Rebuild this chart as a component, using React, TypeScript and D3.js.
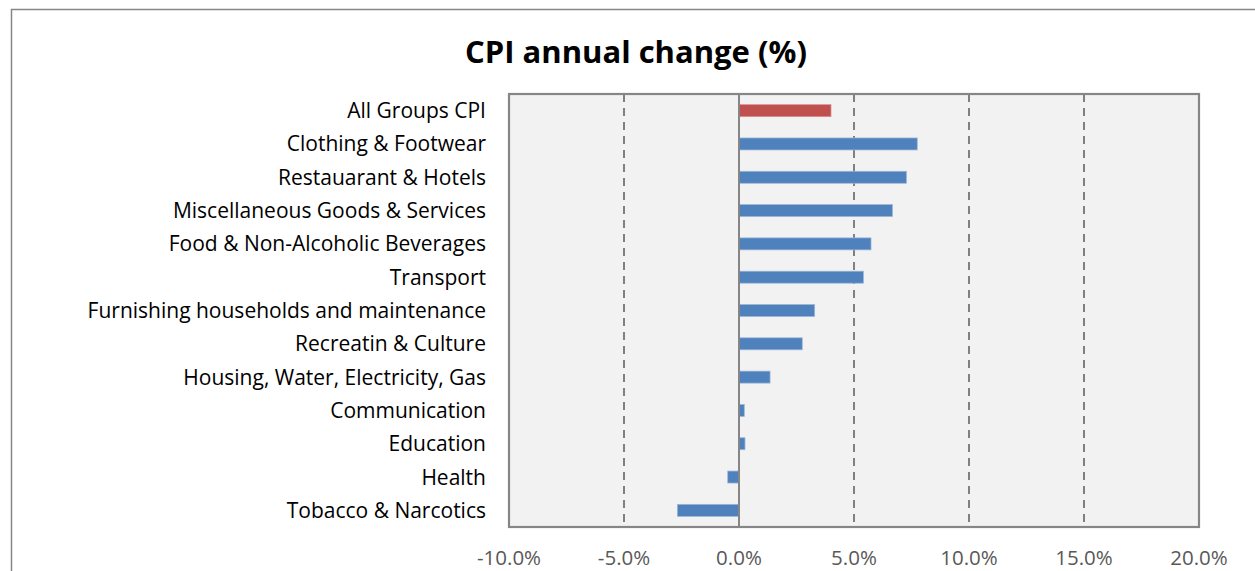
import React from "react";
import * as d3 from "d3";

const categories = [
  "All Groups CPI",
  "Clothing & Footwear",
  "Restauarant & Hotels",
  "Miscellaneous Goods & Services",
  "Food & Non-Alcoholic Beverages",
  "Transport",
  "Furnishing households and maintenance",
  "Recreatin & Culture",
  "Housing, Water, Electricity, Gas",
  "Communication",
  "Education",
  "Health",
  "Tobacco & Narcotics",
];
const values = [4.0, 7.75, 7.28, 6.67, 5.74, 5.41, 3.29, 2.75, 1.35, 0.23, 0.26, -0.49, -2.68];
const ticks = [-10, -5, 0, 5, 10, 15, 20];
const title = "CPI annual change (%)";

const W = 1255;
const H = 571;
const plot = { left: 509, right: 1199, top: 94, bottom: 527 };
const FONT = "'Open Sans', sans-serif";

export default function App() {
  const x = d3.scaleLinear().domain([-10, 20]).range([plot.left, plot.right]);
  const y = d3
    .scaleBand<string>()
    .domain(categories)
    .range([plot.top, plot.bottom])
    .paddingInner(0.64)
    .paddingOuter(0.32);
  const fmt = (v: number) => d3.format(".1f")(v).replace("\u2212", "-") + "%";

  return (
    <svg
      width={W}
      height={H}
      style={{ position: "absolute", left: 0, top: 0, background: "#fff" }}
    >
      <rect x={11.5} y={9.5} width={W + 20} height={H + 20} fill="#fff" stroke="#868686" strokeWidth={1.5} />
      <text
        x={636}
        y={55}
        textAnchor="middle"
        dominantBaseline="middle"
        fontFamily={FONT}
        fontWeight="bold"
        fontSize={31}
        fill="#000"
      >
        {title}
      </text>
      <rect
        x={plot.left}
        y={plot.top}
        width={plot.right - plot.left}
        height={plot.bottom - plot.top}
        fill="#F2F2F2"
      />
      {ticks
        .filter((t) => t !== 0 && t !== -10 && t !== 20)
        .map((t) => (
          <line
            key={t}
            x1={x(t)}
            x2={x(t)}
            y1={plot.top}
            y2={plot.bottom}
            stroke="#808080"
            strokeWidth={2}
            strokeDasharray="8,6"
          />
        ))}
      {categories.map((c, i) => {
        const v = values[i];
        const x0 = x(Math.min(0, v));
        const x1 = x(Math.max(0, v));
        return (
          <rect
            key={c}
            x={x0}
            y={y(c)!}
            width={x1 - x0}
            height={y.bandwidth()}
            fill={i === 0 ? "#C0504D" : "#4F81BD"}
            stroke={i === 0 ? "#D9908E" : "#9DB6D8"}
            strokeWidth={0.75}
          />
        );
      })}
      <line x1={x(0)} x2={x(0)} y1={plot.top} y2={plot.bottom} stroke="#868686" strokeWidth={2} />
      <rect
        x={plot.left}
        y={plot.top}
        width={plot.right - plot.left}
        height={plot.bottom - plot.top}
        fill="none"
        stroke="#868686"
        strokeWidth={2.2}
      />
      {categories.map((c) => (
        <text
          key={c}
          x={486}
          y={y(c)! + y.bandwidth() / 2 - 0.5}
          textAnchor="end"
          dominantBaseline="central"
          fontFamily={FONT}
          fontSize={21}
          fill="#000"
        >
          {c}
        </text>
      ))}
      {ticks.map((t) => (
        <text
          key={t}
          x={x(t)}
          y={557}
          textAnchor="middle"
          dominantBaseline="central"
          fontFamily={FONT}
          fontSize={20.5}
          fill="#595959"
        >
          {fmt(t)}
        </text>
      ))}
    </svg>
  );
}
